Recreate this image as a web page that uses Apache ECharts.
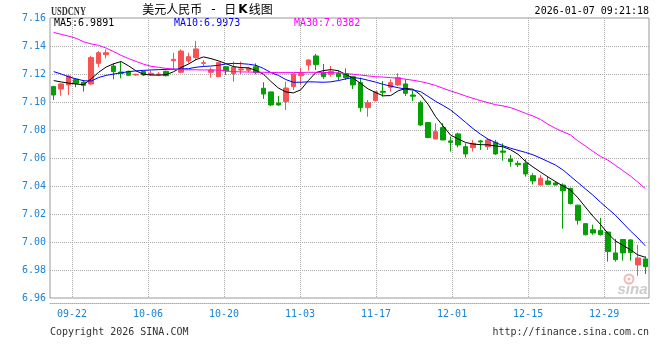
<!DOCTYPE html>
<html><head><meta charset="utf-8">
<script src="https://cdn.jsdelivr.net/npm/echarts@6/dist/echarts.min.js"></script>
<style>html,body{margin:0;padding:0;background:#fff}#c{width:660px;height:360px}</style>
</head><body><div id="c"></div>
<script>
const dates = ['09-17','09-18','09-19','09-22','09-23','09-24','09-25','09-26','09-29','09-30',
'10-01','10-02','10-03','10-06','10-07','10-08','10-09','10-10','10-13','10-14',
'10-15','10-16','10-17','10-20','10-21','10-22','10-23','10-24','10-27','10-28',
'10-29','10-30','10-31','11-03','11-04','11-05','11-06','11-07','11-10','11-11',
'11-12','11-13','11-14','11-17','11-18','11-19','11-20','11-21','11-24','11-25',
'11-26','11-27','11-28','12-01','12-02','12-03','12-04','12-05','12-08','12-09',
'12-10','12-11','12-12','12-15','12-16','12-17','12-18','12-19','12-22','12-23',
'12-24','12-25','12-26','12-29','12-30','12-31','01-02','01-05','01-06','01-07'];

const openV = [7.1110,7.1093,7.1122,7.1162,7.1141,7.1129,7.1276,7.1338,7.1257,7.1214,
7.1219,7.1193,7.1217,7.1195,7.1193,7.1219,7.1295,7.1212,7.1293,7.1317,
7.1276,7.1212,7.1181,7.1252,7.1202,7.1229,7.1226,7.1252,7.1098,7.1072,
7.0993,7.1003,7.1110,7.1188,7.1264,7.1329,7.1210,7.1198,7.1205,7.1202,
7.1181,7.1138,7.0960,7.1010,7.1076,7.1105,7.1122,7.1129,7.1050,7.0995,
7.0853,7.0736,7.0817,7.0722,7.0772,7.0681,7.0674,7.0722,7.0681,7.0712,
7.0650,7.0593,7.0562,7.0563,7.0474,7.0407,7.0436,7.0422,7.0407,7.0383,
7.0263,7.0131,7.0088,7.0083,7.0071,6.9922,7.0018,7.0015,6.9836,6.9879];
const closeV = [7.1050,7.1129,7.1186,7.1133,7.1119,7.1317,7.1352,7.1352,7.1217,7.1205,
7.1191,7.1198,7.1193,7.1205,7.1200,7.1188,7.1305,7.1364,7.1324,7.1379,
7.1281,7.1229,7.1281,7.1222,7.1248,7.1236,7.1241,7.1210,7.1057,7.0979,
7.0979,7.1100,7.1200,7.1205,7.1300,7.1267,7.1181,7.1217,7.1181,7.1174,
7.1122,7.0960,7.0995,7.1074,7.1069,7.1138,7.1174,7.1062,7.1041,7.0836,
7.0746,7.0788,7.0729,7.0712,7.0693,7.0629,7.0705,7.0715,7.0729,7.0629,
7.0641,7.0574,7.0552,7.0486,7.0436,7.0455,7.0412,7.0407,7.0366,7.0275,
7.0155,7.0052,7.0064,7.0052,6.9932,6.9874,6.9922,6.9925,6.9886,6.9824];
const lowV = [7.1014,7.1045,7.1050,7.1105,7.1074,7.1122,7.1250,7.1312,7.1162,7.1169,
7.1188,7.1188,7.1188,7.1188,7.1188,7.1183,7.1229,7.1205,7.1276,7.1300,
7.1257,7.1174,7.1181,7.1193,7.1145,7.1200,7.1212,7.1198,7.1022,7.0972,
7.0972,7.0943,7.1086,7.1122,7.1224,7.1229,7.1164,7.1181,7.1157,7.1157,
7.1093,7.0931,7.0895,7.1003,7.1038,7.1074,7.1114,7.1043,7.1007,7.0829,
7.0741,7.0734,7.0727,7.0646,7.0676,7.0603,7.0646,7.0657,7.0657,7.0622,
7.0581,7.0538,7.0535,7.0467,7.0412,7.0407,7.0407,7.0405,7.0095,7.0268,
7.0124,7.0047,7.0052,7.0047,6.9860,6.9860,6.9867,6.9867,6.9759,6.9771];
const highV = [7.1115,7.1133,7.1191,7.1169,7.1157,7.1329,7.1364,7.1376,7.1276,7.1288,
7.1224,7.1202,7.1224,7.1224,7.1214,7.1224,7.1352,7.1376,7.1352,7.1436,
7.1300,7.1245,7.1288,7.1257,7.1288,7.1288,7.1252,7.1276,7.1141,7.1074,
7.1043,7.1145,7.1205,7.1245,7.1305,7.1343,7.1271,7.1257,7.1224,7.1240,
7.1186,7.1174,7.1014,7.1079,7.1150,7.1162,7.1205,7.1162,7.1079,7.1010,
7.0855,7.0848,7.0848,7.0753,7.0781,7.0705,7.0729,7.0729,7.0741,7.0729,
7.0705,7.0622,7.0580,7.0592,7.0491,7.0479,7.0467,7.0431,7.0419,7.0388,
7.0265,7.0134,7.0124,7.0172,7.0074,7.0023,7.0020,7.0020,6.9980,6.9898];

const ma5 = [7.1153,7.1143,7.1135,7.1128,7.1124,7.1165,7.1212,7.1250,7.1273,7.1289,
7.1258,7.1222,7.1198,7.1193,7.1192,7.1195,7.1216,7.1246,7.1271,7.1303,
7.1322,7.1310,7.1294,7.1274,7.1253,7.1246,7.1244,7.1226,7.1199,7.1147,
7.1100,7.1072,7.1065,7.1087,7.1153,7.1210,7.1224,7.1231,7.1224,7.1197,
7.1170,7.1132,7.1093,7.1067,7.1044,7.1046,7.1080,7.1097,7.1091,7.1050,
7.0983,7.0895,7.0829,7.0763,7.0737,7.0711,7.0700,7.0695,7.0694,7.0686,
7.0680,7.0659,7.0627,7.0576,7.0536,7.0500,7.0465,7.0432,7.0400,7.0372,
7.0316,7.0250,7.0185,7.0127,7.0062,7.0008,6.9977,6.9945,6.9908,6.9891];
const ma10 = [7.1217,7.1200,7.1180,7.1165,7.1152,7.1150,7.1175,7.1190,7.1200,7.1208,
7.1217,7.1222,7.1226,7.1229,7.1231,7.1233,7.1234,7.1236,7.1238,7.1248,
7.1254,7.1257,7.1262,7.1272,7.1276,7.1274,7.1270,7.1262,7.1240,7.1210,
7.1190,7.1160,7.1141,7.1141,7.1144,7.1143,7.1141,7.1144,7.1153,7.1165,
7.1175,7.1168,7.1155,7.1142,7.1126,7.1114,7.1102,7.1092,7.1085,7.1074,
7.1040,7.1005,7.0975,7.0943,7.0900,7.0855,7.0810,7.0770,7.0735,7.0710,
7.0688,7.0670,7.0655,7.0640,7.0623,7.0600,7.0575,7.0550,7.0515,7.0470,
7.0425,7.0380,7.0335,7.0285,7.0238,7.0192,7.0136,7.0080,7.0030,6.9973];
const ma30 = [7.1497,7.1483,7.1470,7.1455,7.1430,7.1415,7.1405,7.1385,7.1360,7.1333,
7.1310,7.1290,7.1270,7.1255,7.1248,7.1240,7.1235,7.1230,7.1230,7.1230,
7.1229,7.1229,7.1228,7.1222,7.1217,7.1215,7.1214,7.1213,7.1212,7.1211,
7.1210,7.1210,7.1210,7.1211,7.1212,7.1212,7.1211,7.1210,7.1208,7.1203,
7.1198,7.1192,7.1186,7.1181,7.1178,7.1174,7.1170,7.1163,7.1155,7.1146,
7.1133,7.1118,7.1098,7.1079,7.1062,7.1043,7.1026,7.1010,7.0995,7.0981,
7.0972,7.0960,7.0941,7.0919,7.0900,7.0876,7.0841,7.0812,7.0788,7.0765,
7.0722,7.0686,7.0648,7.0612,7.0585,7.0548,7.0510,7.0472,7.0428,7.0382];

const tickLabels = ['09-22','10-06','10-20','11-03','11-17','12-01','12-15','12-29'];

const MONO = '"DejaVu Sans Mono", "Liberation Mono", monospace';
const BLUE = '#1a84d6';
const RED = '#f65454';
const GREEN = '#04a004';
const GRIDC = '#aaaaaa';

const kData = dates.map((d, i) => [openV[i], closeV[i], lowV[i], highV[i]]);
const last = a => a[a.length - 1].toFixed(4);

function txt(x, y, text, font, fill, align, extra) {
  return Object.assign({
    type: 'text', x: x, y: y, silent: true,
    style: { text: text, font: font, fill: fill, align: align || 'left', textAlign: align || 'left', verticalAlign: 'middle', textVerticalAlign: 'middle' }
  }, extra || {});
}

const chart = echarts.init(document.getElementById('c'), null, { renderer: 'canvas' });
chart.setOption({
  animation: false,
  backgroundColor: '#fff',
  grid: [
    { left: 50, right: 11, top: 18, bottom: 62, show: true, borderColor: '#999', borderWidth: 1, backgroundColor: 'transparent' },
    { left: 72, right: 11, top: 18, bottom: 62, show: false }
  ],
  xAxis: [
    { type: 'category', gridIndex: 0, data: dates, boundaryGap: true, offset: 5,
      axisLine: { show: true, lineStyle: { color: GRIDC, type: 'dotted', width: 1 } },
      axisTick: { show: false }, axisLabel: { show: false }, splitLine: { show: false } },
    { type: 'value', gridIndex: 1, min: 0, max: 7.59, interval: 1,
      axisLine: { show: false }, axisTick: { show: false },
      axisLabel: { color: BLUE, fontFamily: MONO, fontSize: 10, margin: 11, showMaxLabel: false,
        formatter: v => (Number.isInteger(v) && tickLabels[v]) ? tickLabels[v] : '' },
      splitLine: { show: true, showMaxLine: false, lineStyle: { color: GRIDC, type: 'dotted', width: 1 } } }
  ],
  yAxis: [
    { type: 'value', gridIndex: 0, min: 6.96, max: 7.16, interval: 0.02, position: 'left',
      axisLine: { show: false }, axisTick: { show: false },
      axisLabel: { color: BLUE, fontFamily: MONO, fontSize: 10, margin: 4, formatter: v => v.toFixed(2) },
      splitLine: { show: true, showMinLine: false, showMaxLine: false, lineStyle: { color: GRIDC, type: 'dotted', width: 1 } } },
    { type: 'value', gridIndex: 1, min: 0, max: 1, show: false }
  ],
  series: [
    { type: 'candlestick', xAxisIndex: 0, yAxisIndex: 0, data: kData, barWidth: 5,
      itemStyle: { color: RED, color0: GREEN, borderColor: RED, borderColor0: GREEN, borderWidth: 1 } },
    { type: 'line', xAxisIndex: 0, yAxisIndex: 0, data: ma5, symbol: 'none', silent: true, lineStyle: { color: '#000000', width: 1 } },
    { type: 'line', xAxisIndex: 0, yAxisIndex: 0, data: ma10, symbol: 'none', silent: true, lineStyle: { color: '#0000ff', width: 1 } },
    { type: 'line', xAxisIndex: 0, yAxisIndex: 0, data: ma30, symbol: 'none', silent: true, lineStyle: { color: '#ff00ff', width: 1 } }
  ],
  graphic: [
    txt(51, 11.5, 'USDCNY', 'bold 12px "Liberation Serif"', '#333', 'left', { scaleX: 0.7 }),
    { type: 'text', x: 207.5, y: 9.5, silent: true,
      style: { text: '{a|美元人民币}{d|-}{a|日}{b|K}{a|线图}', align: 'center', textAlign: 'center', verticalAlign: 'middle', textVerticalAlign: 'middle', fill: '#000',
        rich: { a: { font: '12px "Noto Sans CJK SC"', fill: '#000' },
                d: { font: '12px "DejaVu Sans"', fill: '#000', width: 22, align: 'center' },
                b: { font: 'bold 12px "DejaVu Sans"', fill: '#000', padding: [0, 1, 0, 2] } } } },
    txt(649, 11.5, '2026-01-07 09:21:18', '10px ' + MONO, '#000', 'right'),
    txt(54, 23.5, 'MA5:' + last(ma5), '10px ' + MONO, '#000000', 'left'),
    txt(174, 23.5, 'MA10:' + last(ma10), '10px ' + MONO, '#0000ff', 'left'),
    txt(294, 23.5, 'MA30:' + last(ma30), '10px ' + MONO, '#ff00ff', 'left'),
    txt(50, 332.5, 'Copyright 2026 SINA.COM', '10px ' + MONO, '#333', 'left'),
    txt(649, 332.5, 'http://finance.sina.com.cn', '10px ' + MONO, '#333', 'right'),
    { type: 'circle', silent: true, shape: { cx: 629, cy: 279, r: 4.5 }, style: { fill: 'none', stroke: '#f2b8b8', lineWidth: 2 } },
    { type: 'circle', silent: true, shape: { cx: 629, cy: 279, r: 1.5 }, style: { fill: '#f2b8b8' } },
    txt(632.5, 289.5, 'sina', 'italic bold 15px "Liberation Sans"', '#cccccc', 'center')
  ]
});
</script>
</body></html>
